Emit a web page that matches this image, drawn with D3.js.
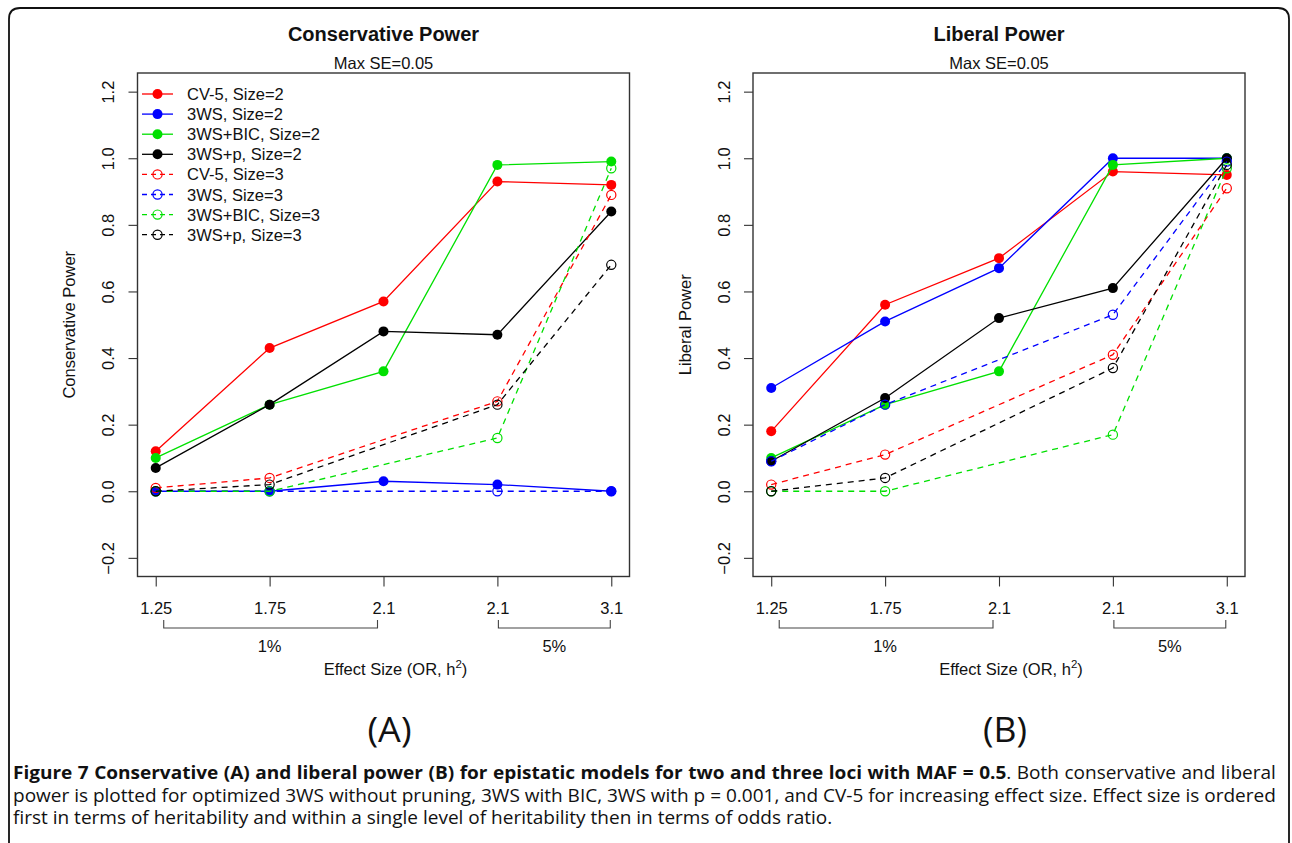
<!DOCTYPE html>
<html>
<head>
<meta charset="utf-8">
<script src="https://cdn.jsdelivr.net/npm/d3@7"></script>
<style>
  html, body { margin: 0; padding: 0; background: #fff; }
  svg { display: block; }
  .r text { font-family: "Liberation Sans", Arial, sans-serif; fill: #111; }
  .cap { font-family: "Open Sans", "Noto Sans", sans-serif; fill: #111; }
</style>
</head>
<body>
<div id="chart"></div>
<script>
// x categories (effect size: OR within heritability level)
const xLabels = ["1.25", "1.75", "2.1", "2.1", "3.1"];
const size2X = [1, 2, 3, 4, 5];
const size3X = [1, 2, 4, 5];
const groups = [{label: "1%", from: 1, to: 3}, {label: "5%", from: 4, to: 5}];
const yTicks = [-0.2, 0, 0.2, 0.4, 0.6, 0.8, 1.0, 1.2];

const legendLabels = ["CV-5, Size=2", "3WS, Size=2", "3WS+BIC, Size=2", "3WS+p, Size=2",
                      "CV-5, Size=3", "3WS, Size=3", "3WS+BIC, Size=3", "3WS+p, Size=3"];
const seriesColors = ["#ff0000", "#0000ff", "#00e000", "#000000"];

// conservative power
const consCV5_2 = [0.12, 0.43, 0.57, 0.93, 0.92];
const cons3WS_2 = [0.00, 0.00, 0.03, 0.02, 0.00];
const consBIC_2 = [0.10, 0.26, 0.36, 0.98, 0.99];
const consP_2   = [0.07, 0.26, 0.48, 0.47, 0.84];
const consCV5_3 = [0.01, 0.04, 0.27, 0.89];
const cons3WS_3 = [0.00, 0.00, 0.00, 0.00];
const consBIC_3 = [0.00, 0.00, 0.16, 0.97];
const consP_3   = [0.00, 0.02, 0.26, 0.68];

// liberal power
const libCV5_2 = [0.18, 0.56, 0.70, 0.96, 0.95];
const lib3WS_2 = [0.31, 0.51, 0.67, 1.00, 1.00];
const libBIC_2 = [0.10, 0.26, 0.36, 0.98, 1.00];
const libP_2   = [0.09, 0.28, 0.52, 0.61, 1.00];
const libCV5_3 = [0.02, 0.11, 0.41, 0.91];
const lib3WS_3 = [0.09, 0.26, 0.53, 0.99];
const libBIC_3 = [0.00, 0.00, 0.17, 0.97];
const libP_3   = [0.00, 0.04, 0.37, 0.98];

const capBold = "Figure 7 Conservative (A) and liberal power (B) for epistatic models for two and three loci with MAF = 0.5";
const capLine1 = ". Both conservative and liberal";
const capLine2 = "power is plotted for optimized 3WS without pruning, 3WS with BIC, 3WS with p = 0.001, and CV-5 for increasing effect size. Effect size is ordered";
const capLine3 = "first in terms of heritability and within a single level of heritability then in terms of odds ratio.";

let W = 1292, H = 843;
let fs = 16.5;
let plotTop = 73, plotBottom = 576.5, boxW = 492;

function makeSeries(s2, s3) {
  const out = [];
  s2.forEach((vals, i) => out.push({idx: i, dashed: false, pts: vals.map((v, j) => [size2X[j], v])}));
  s3.forEach((vals, i) => out.push({idx: i, dashed: true, pts: vals.map((v, j) => [size3X[j], v])}));
  return out;
}

const panels = [
  {title: "Conservative Power", ylab: "Conservative Power", tag: "(A)", left: 137.5, legend: true,
   series: makeSeries([consCV5_2, cons3WS_2, consBIC_2, consP_2], [consCV5_3, cons3WS_3, consBIC_3, consP_3])},
  {title: "Liberal Power", ylab: "Liberal Power", tag: "(B)", left: 753, legend: false,
   series: makeSeries([libCV5_2, lib3WS_2, libBIC_2, libP_2], [libCV5_3, lib3WS_3, libBIC_3, libP_3])}
];

const svg = d3.select("#chart").append("svg").attr("width", W).attr("height", H);
svg.append("rect").attr("width", W).attr("height", H).attr("fill", "#fff");

// outer rounded frame
svg.append("path")
  .attr("d", `M9,${H + 5} L9,19 Q9,8 20,8 L1278,8 Q1289,8 1289,19 L1289,${H + 5}`)
  .attr("fill", "none").attr("stroke", "#111").attr("stroke-width", 1.8);

function drawMarker(g, x, y, color, dashed) {
  if (dashed) {
    g.append("circle").attr("cx", x).attr("cy", y).attr("r", 4.6)
      .attr("fill", "none").attr("stroke", color).attr("stroke-width", 1.2);
  } else {
    g.append("circle").attr("cx", x).attr("cy", y).attr("r", 5)
      .attr("fill", color);
  }
}

panels.forEach(p => {
  const g = svg.append("g").attr("class", "r");
  const right = p.left + boxW;
  const cx = (p.left + right) / 2;

  const x = d3.scaleLinear().domain([0.84, 5.16]).range([p.left, right]);
  const y = d3.scaleLinear().domain([-0.256, 1.256]).range([plotBottom, plotTop]);

  g.append("text").attr("x", cx).attr("y", 41).attr("text-anchor", "middle")
    .style("font-size", "20px").style("font-weight", "bold").text(p.title);
  g.append("text").attr("x", cx).attr("y", 69).attr("text-anchor", "middle")
    .style("font-size", fs + "px").text("Max SE=0.05");

  // y axis
  const ay = g.append("g").attr("transform", `translate(${p.left},0)`)
    .call(d3.axisLeft(y).tickValues(yTicks).tickFormat(d3.format(".1f")).tickSize(9));
  ay.select(".domain").remove();
  ay.selectAll("line").attr("stroke", "#333").attr("stroke-width", 1.1);
  ay.selectAll("text")
    .attr("transform", "rotate(-90)").attr("x", 0).attr("y", -23.5).attr("dy", 0)
    .attr("text-anchor", "middle").attr("fill", "#111")
    .style("font-size", fs + "px").style("font-family", "Liberation Sans, Arial, sans-serif");

  // x axis
  const ax = g.append("g").attr("transform", `translate(0,${plotBottom})`)
    .call(d3.axisBottom(x).tickValues(size2X).tickFormat((d, i) => xLabels[i]).tickSize(10).tickPadding(16));
  ax.select(".domain").remove();
  ax.selectAll("line").attr("stroke", "#333").attr("stroke-width", 1.1);
  ax.selectAll("text").attr("fill", "#111")
    .style("font-size", fs + "px").style("font-family", "Liberation Sans, Arial, sans-serif");

  // heritability brackets
  groups.forEach((gr, i) => {
    const x0 = x(gr.from) + (i === 0 ? 8 : 1);
    const x1 = x(gr.to) - (i === 0 ? 6 : 1);
    g.append("path")
      .attr("d", `M${x0},620 L${x0},628 L${x1},628 L${x1},620`)
      .attr("fill", "none").attr("stroke", "#444").attr("stroke-width", 1.1);
    g.append("text").attr("x", x((gr.from + gr.to) / 2)).attr("y", 652)
      .attr("text-anchor", "middle").style("font-size", fs + "px").text(gr.label);
  });

  const xl = g.append("text").attr("x", cx + 12).attr("y", 675).attr("text-anchor", "middle")
    .style("font-size", fs + "px");
  xl.append("tspan").text("Effect Size (OR, h");
  xl.append("tspan").attr("dy", -7).style("font-size", "11.5px").text("2");
  xl.append("tspan").attr("dy", 7).text(")");

  g.append("text")
    .attr("transform", `translate(${p.left - 62.5},${(plotTop + plotBottom) / 2}) rotate(-90)`)
    .attr("text-anchor", "middle").style("font-size", fs + "px").text(p.ylab);

  // series
  const line = d3.line().x(d => x(d[0])).y(d => y(d[1]));
  const sg = g.append("g");
  p.series.forEach(s => {
    const c = seriesColors[s.idx];
    sg.append("path").attr("d", line(s.pts)).attr("fill", "none")
      .attr("stroke", c).attr("stroke-width", 1.3)
      .attr("stroke-dasharray", s.dashed ? "6,5" : null);
    s.pts.forEach(pt => drawMarker(sg, x(pt[0]), y(pt[1]), c, s.dashed));
  });

  // plot box
  g.append("rect").attr("x", p.left).attr("y", plotTop).attr("width", boxW).attr("height", plotBottom - plotTop)
    .attr("fill", "none").attr("stroke", "#333").attr("stroke-width", 1.4);

  if (p.legend) {
    const lg = g.append("g");
    legendLabels.forEach((lab, i) => {
      const ry = 94 + i * 20.1;
      const c = seriesColors[i % 4];
      const dashed = i >= 4;
      lg.append("line").attr("x1", 142).attr("x2", 173).attr("y1", ry).attr("y2", ry)
        .attr("stroke", c).attr("stroke-width", 1.3)
        .attr("stroke-dasharray", dashed ? "5,4" : null);
      drawMarker(lg, 157.5, ry, c, dashed);
      lg.append("text").attr("x", 187).attr("y", ry + 6).style("font-size", fs + "px").text(lab);
    });
  }

  svg.append("text").attr("class", "cap").attr("x", cx + 6).attr("y", 742)
    .attr("text-anchor", "middle").style("font-size", "35px")
    .attr("textLength", 44).attr("lengthAdjust", "spacingAndGlyphs").text(p.tag);
});

// caption: narrow face emulated by a horizontal squeeze, justified by word spacing
let capSize = 18, capLeft = 13, capWidth = 1264, lastWidth = 820;

function capText(y) {
  return svg.append("text").attr("class", "cap").attr("x", 0).attr("y", 0)
    .style("font-size", capSize + "px");
}

const t3 = capText().text(capLine3);
const k = lastWidth / t3.node().getComputedTextLength();
t3.attr("transform", `translate(${capLeft},824) scale(${k},1)`);

function justify(sel, y) {
  const w0 = sel.node().getComputedTextLength();
  const n = (sel.text().match(/ /g) || []).length;
  const ws = (capWidth / k - w0) / n;
  sel.style("word-spacing", ws + "px")
    .attr("transform", `translate(${capLeft},${y}) scale(${k},1)`);
}

const t1 = capText();
t1.append("tspan").style("font-weight", "bold").text(capBold);
t1.append("tspan").text(capLine1);
justify(t1, 779);

const t2 = capText().text(capLine2);
justify(t2, 801.5);
</script>
</body>
</html>
